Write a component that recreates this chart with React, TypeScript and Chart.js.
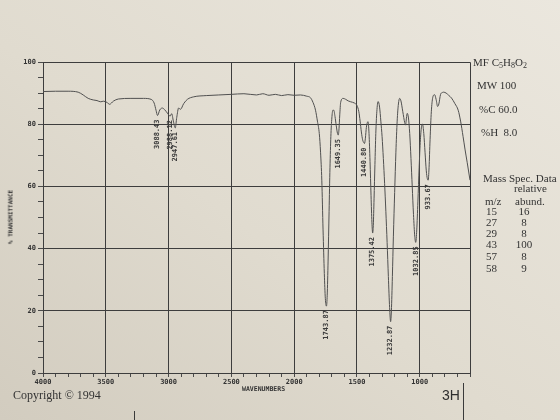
import React, { useEffect, useRef } from 'react';
import { Chart, registerables } from 'chart.js';

Chart.register(...registerables);

// IR spectrum (wavenumber, cm-1) and % transmittance
const wavenumbers = [
  4000, 3900, 3800, 3720, 3680, 3640, 3600, 3570, 3540, 3520, 3490, 3470, 3440, 3400, 3300, 3200,
  3140, 3115, 3100, 3088, 3070, 3050, 3030, 3010, 2988, 2975, 2962, 2947, 2935, 2920, 2905, 2880,
  2850, 2800, 2700, 2600, 2500, 2400, 2300, 2250, 2200, 2150, 2100, 2050, 2000, 1950, 1900, 1870,
  1850, 1830, 1815, 1800, 1790, 1780, 1770, 1760, 1752, 1743, 1737, 1730, 1722, 1715, 1708, 1700,
  1692, 1685, 1675, 1665, 1655, 1649, 1643, 1637, 1630, 1610, 1590, 1570, 1550, 1520, 1500, 1485,
  1475, 1465, 1455, 1445, 1440, 1433, 1425, 1412, 1404, 1396, 1388, 1381, 1375, 1370, 1364, 1357,
  1350, 1342, 1332, 1320, 1310, 1300, 1290, 1280, 1270, 1260, 1250, 1240, 1232, 1226, 1218, 1210,
  1200, 1190, 1180, 1170, 1160, 1150, 1135, 1120, 1113, 1106, 1100, 1090, 1080, 1070, 1060, 1050,
  1040, 1032, 1024, 1015, 1005, 995, 985, 978, 968, 958, 948, 940, 933, 926, 918, 908,
  897, 882, 870, 858, 848, 835, 820, 810, 790, 770, 747, 720, 694, 675, 655, 640,
  622, 600,
];
const transmittance = [
  90.5, 90.6, 90.6, 90.3, 89.4, 88.3, 87.8, 87.6, 87.2, 87.4, 87.0, 86.4, 87.4, 88.1, 88.3, 88.3,
  88.0, 86.8, 84.5, 82.8, 84.6, 85.2, 84.6, 83.6, 82.6, 83.4, 81.0, 78.8, 82.2, 85.2, 84.8, 86.6,
  88.0, 88.8, 89.2, 89.4, 89.6, 89.8, 89.4, 89.8, 89.3, 89.6, 89.2, 89.5, 89.3, 89.4, 89.0, 88.5,
  87.0, 84.5, 81.0, 77.0, 71.0, 62.0, 46.0, 32.0, 24.0, 21.5, 25.0, 36.0, 52.0, 66.0, 76.0, 82.0,
  84.5, 84.5, 82.5, 79.5, 77.0, 76.5, 78.5, 83.0, 87.0, 88.3, 88.0, 87.5, 87.2, 86.8, 86.0, 84.0,
  81.0, 77.5, 75.0, 74.0, 73.8, 75.5, 79.0, 80.8, 77.0, 68.0, 57.0, 48.5, 45.0, 47.5, 56.0, 67.0,
  77.0, 84.0, 87.3, 85.5, 81.0, 76.0, 69.0, 61.0, 52.0, 42.0, 31.0, 21.0, 16.5, 20.0, 31.0, 44.0,
  58.0, 71.0, 81.0, 86.5, 88.3, 87.5, 84.0, 80.5, 79.7, 82.0, 83.5, 82.0, 77.0, 69.0, 60.0, 51.0,
  44.0, 42.0, 46.0, 55.0, 66.0, 75.0, 79.5, 80.0, 77.0, 71.0, 65.0, 62.5, 62.0, 66.0, 75.0, 84.0,
  88.5, 89.5, 88.0, 85.7, 86.5, 89.5, 90.2, 90.3, 90.0, 89.3, 88.4, 86.6, 84.5, 81.0, 76.0, 72.0,
  67.6, 62.0,
];

// labelled absorption peaks
const peakWavenumbers = [3088, 2988, 2947, 1743, 1649, 1440, 1375, 1232, 1032, 933];
const peakLabels = ['3088.43', '2988.12', '2947.61', '1743.87', '1649.35', '1440.80', '1375.42', '1232.87', '1032.85', '933.67'];

// side panel data
const massMz = ['15', '27', '29', '43', '57', '58'];
const massAbund = ['16', '8', '8', '100', '8', '9'];

const X_MIN = 600;
const X_MAX = 4000;

const ink = '#333';
const mono = '"DejaVu Sans Mono", monospace';
const serif = '"Liberation Serif", "DejaVu Serif", serif';

export default function App() {
  const canvasRef = useRef<HTMLCanvasElement>(null);

  useEffect(() => {
    const canvas = canvasRef.current;
    if (!canvas) return;

    const peakPlugin = {
      id: 'peakLabels',
      afterDatasetsDraw(chart: any) {
        const { ctx, scales } = chart;
        const xs = scales.x;
        const ys = scales.y;
        ctx.save();
        ctx.fillStyle = '#3a3a3a';
        ctx.font = `bold 7px ${mono}`;
        ctx.textAlign = 'right';
        ctx.textBaseline = 'middle';
        peakWavenumbers.forEach((wn, i) => {
          const idx = wavenumbers.indexOf(wn);
          const t = transmittance[idx];
          const px = xs.getPixelForValue(wn);
          const py = ys.getPixelForValue(t) + 4;
          ctx.save();
          ctx.translate(px, py);
          ctx.rotate(-Math.PI / 2);
          ctx.fillText(peakLabels[i], 0, 0);
          ctx.restore();
        });
        ctx.restore();
      },
    };

    const framePlugin = {
      id: 'frame',
      beforeDatasetsDraw(chart: any) {
        const { ctx, chartArea: a } = chart;
        ctx.save();
        ctx.strokeStyle = '#3d3d3d';
        ctx.lineWidth = 1;
        ctx.beginPath();
        const top = Math.round(a.top) + 0.5;
        const right = Math.round(a.right) + 0.5;
        ctx.moveTo(Math.round(a.left), top);
        ctx.lineTo(right, top);
        ctx.lineTo(right, Math.round(a.bottom));
        ctx.stroke();
        ctx.restore();
      },
    };

    const chart = new Chart(canvas, {
      type: 'line',
      data: {
        datasets: [
          {
            label: '% Transmittance',
            data: wavenumbers.map((w, i) => ({ x: w, y: transmittance[i] })),
            borderColor: '#505050',
            borderWidth: 1,
            pointRadius: 0,
            fill: false,
            cubicInterpolationMode: 'monotone',
          },
        ],
      },
      options: {
        responsive: false,
        animation: false,
        events: [],
        layout: { padding: { top: 62, right: 90, left: 0, bottom: 0 } },
        plugins: {
          legend: { display: false },
          tooltip: { enabled: false },
        },
        scales: {
          x: {
            type: 'linear',
            reverse: true,
            min: X_MIN,
            max: X_MAX,
            afterFit: (s: any) => {
              s.height = 47;
            },
            afterBuildTicks: (s: any) => {
              const t = [];
              for (let v = X_MIN; v <= X_MAX; v += 100) t.push({ value: v });
              s.ticks = t;
            },
            ticks: {
              autoSkip: false,
              maxRotation: 0,
              minRotation: 0,
              padding: 1,
              color: ink,
              font: { family: mono, size: 7, weight: 'bold' },
              callback: (v: any) => (v % 500 === 0 && v >= 1000 ? String(v) : ''),
            },
            grid: {
              color: (c: any) =>
                c.tick && c.tick.value % 500 === 0 && c.tick.value >= 1000 && c.tick.value < 4000
                  ? '#3d3d3d'
                  : 'rgba(0,0,0,0)',
              tickColor: '#4a4a4a',
              tickLength: 4,
              lineWidth: 1,
            },
            border: { color: '#3d3d3d', width: 1 },
          },
          y: {
            type: 'linear',
            min: 0,
            max: 100,
            afterFit: (s: any) => {
              s.width = 43;
            },
            afterBuildTicks: (s: any) => {
              const t = [];
              for (let v = 0; v <= 100; v += 5) t.push({ value: v });
              s.ticks = t;
            },
            ticks: {
              autoSkip: false,
              padding: 2,
              color: ink,
              font: { family: mono, size: 7, weight: 'bold' },
              callback: (v: any) => (v % 20 === 0 ? String(v) : ''),
            },
            grid: {
              color: (c: any) =>
                c.tick && c.tick.value % 20 === 0 && c.tick.value > 0 ? '#3d3d3d' : 'rgba(0,0,0,0)',
              tickColor: '#4a4a4a',
              tickLength: 5,
              lineWidth: 1,
            },
            border: { color: '#3d3d3d', width: 1 },
          },
        },
      },
      plugins: [framePlugin, peakPlugin],
    } as any);

    return () => chart.destroy();
  }, []);

  const abs = (left: number, top: number, extra: any = {}) => ({
    position: 'absolute' as const,
    left,
    top,
    whiteSpace: 'pre' as const,
    lineHeight: '12px',
    ...extra,
  });

  const serifText = { fontFamily: serif, fontSize: 11, color: ink };
  const rowTops = [205, 216, 227, 238, 250, 262];

  return (
    <div
      style={{
        position: 'fixed',
        left: 0,
        top: 0,
        width: 560,
        height: 420,
        overflow: 'hidden',
        background: 'linear-gradient(to top right, #d2ccbf 0%, #e0dbcf 45%, #ebe7de 100%)',
      }}
    >
      <canvas ref={canvasRef} width={560} height={420} style={{ position: 'absolute', left: 0, top: 0 }} />

      {/* axis titles */}
      <div
        style={{
          position: 'absolute',
          left: 9.5,
          top: 217,
          transform: 'translate(-50%, -50%) rotate(-90deg)',
          whiteSpace: 'nowrap',
          fontFamily: mono,
          fontWeight: 'bold',
          fontSize: 6,
          color: ink,
        }}
      >
        % TRANSMITTANCE
      </div>
      <div style={abs(242, 383, { fontFamily: mono, fontWeight: 'bold', fontSize: 6.5, color: ink })}>WAVENUMBERS</div>

      {/* footer */}
      <div style={abs(13, 388, { fontFamily: serif, fontSize: 12, lineHeight: '14px', color: ink })}>Copyright © 1994</div>
      <div
        style={abs(442, 387, {
          fontFamily: '"Liberation Sans Narrow", "Liberation Sans", sans-serif',
          fontSize: 14,
          lineHeight: '16px',
          color: '#2e2e2e',
        })}
      >
        3H
      </div>
      <div style={{ position: 'absolute', left: 463, top: 383, width: 1, height: 37, background: '#3a3a3a' }} />
      <div style={{ position: 'absolute', left: 134, top: 411, width: 1, height: 9, background: '#3a3a3a' }} />

      {/* compound data */}
      <div style={abs(473, 56, serifText)}>
        MF C<sub style={{ fontSize: 8, verticalAlign: -2 }}>5</sub>H<sub style={{ fontSize: 8, verticalAlign: -2 }}>8</sub>O
        <sub style={{ fontSize: 8, verticalAlign: -2 }}>2</sub>
      </div>
      <div style={abs(477, 79, serifText)}>MW 100</div>
      <div style={abs(479, 103, serifText)}>%C 60.0</div>
      <div style={abs(481, 126, serifText)}>%H  8.0</div>

      {/* mass spec table */}
      <div style={abs(483, 172, serifText)}>Mass Spec. Data</div>
      <div style={abs(514, 182, serifText)}>relative</div>
      <div style={abs(485, 195, serifText)}>m/z</div>
      <div style={abs(515, 195, serifText)}>abund.</div>
      {massMz.map((m, i) => (
        <div key={'mz' + i} style={abs(486, rowTops[i], serifText)}>
          {m}
        </div>
      ))}
      {massAbund.map((a, i) => (
        <div
          key={'ab' + i}
          style={abs(504, rowTops[i], { ...serifText, width: 40, textAlign: 'center' })}
        >
          {a}
        </div>
      ))}
    </div>
  );
}
